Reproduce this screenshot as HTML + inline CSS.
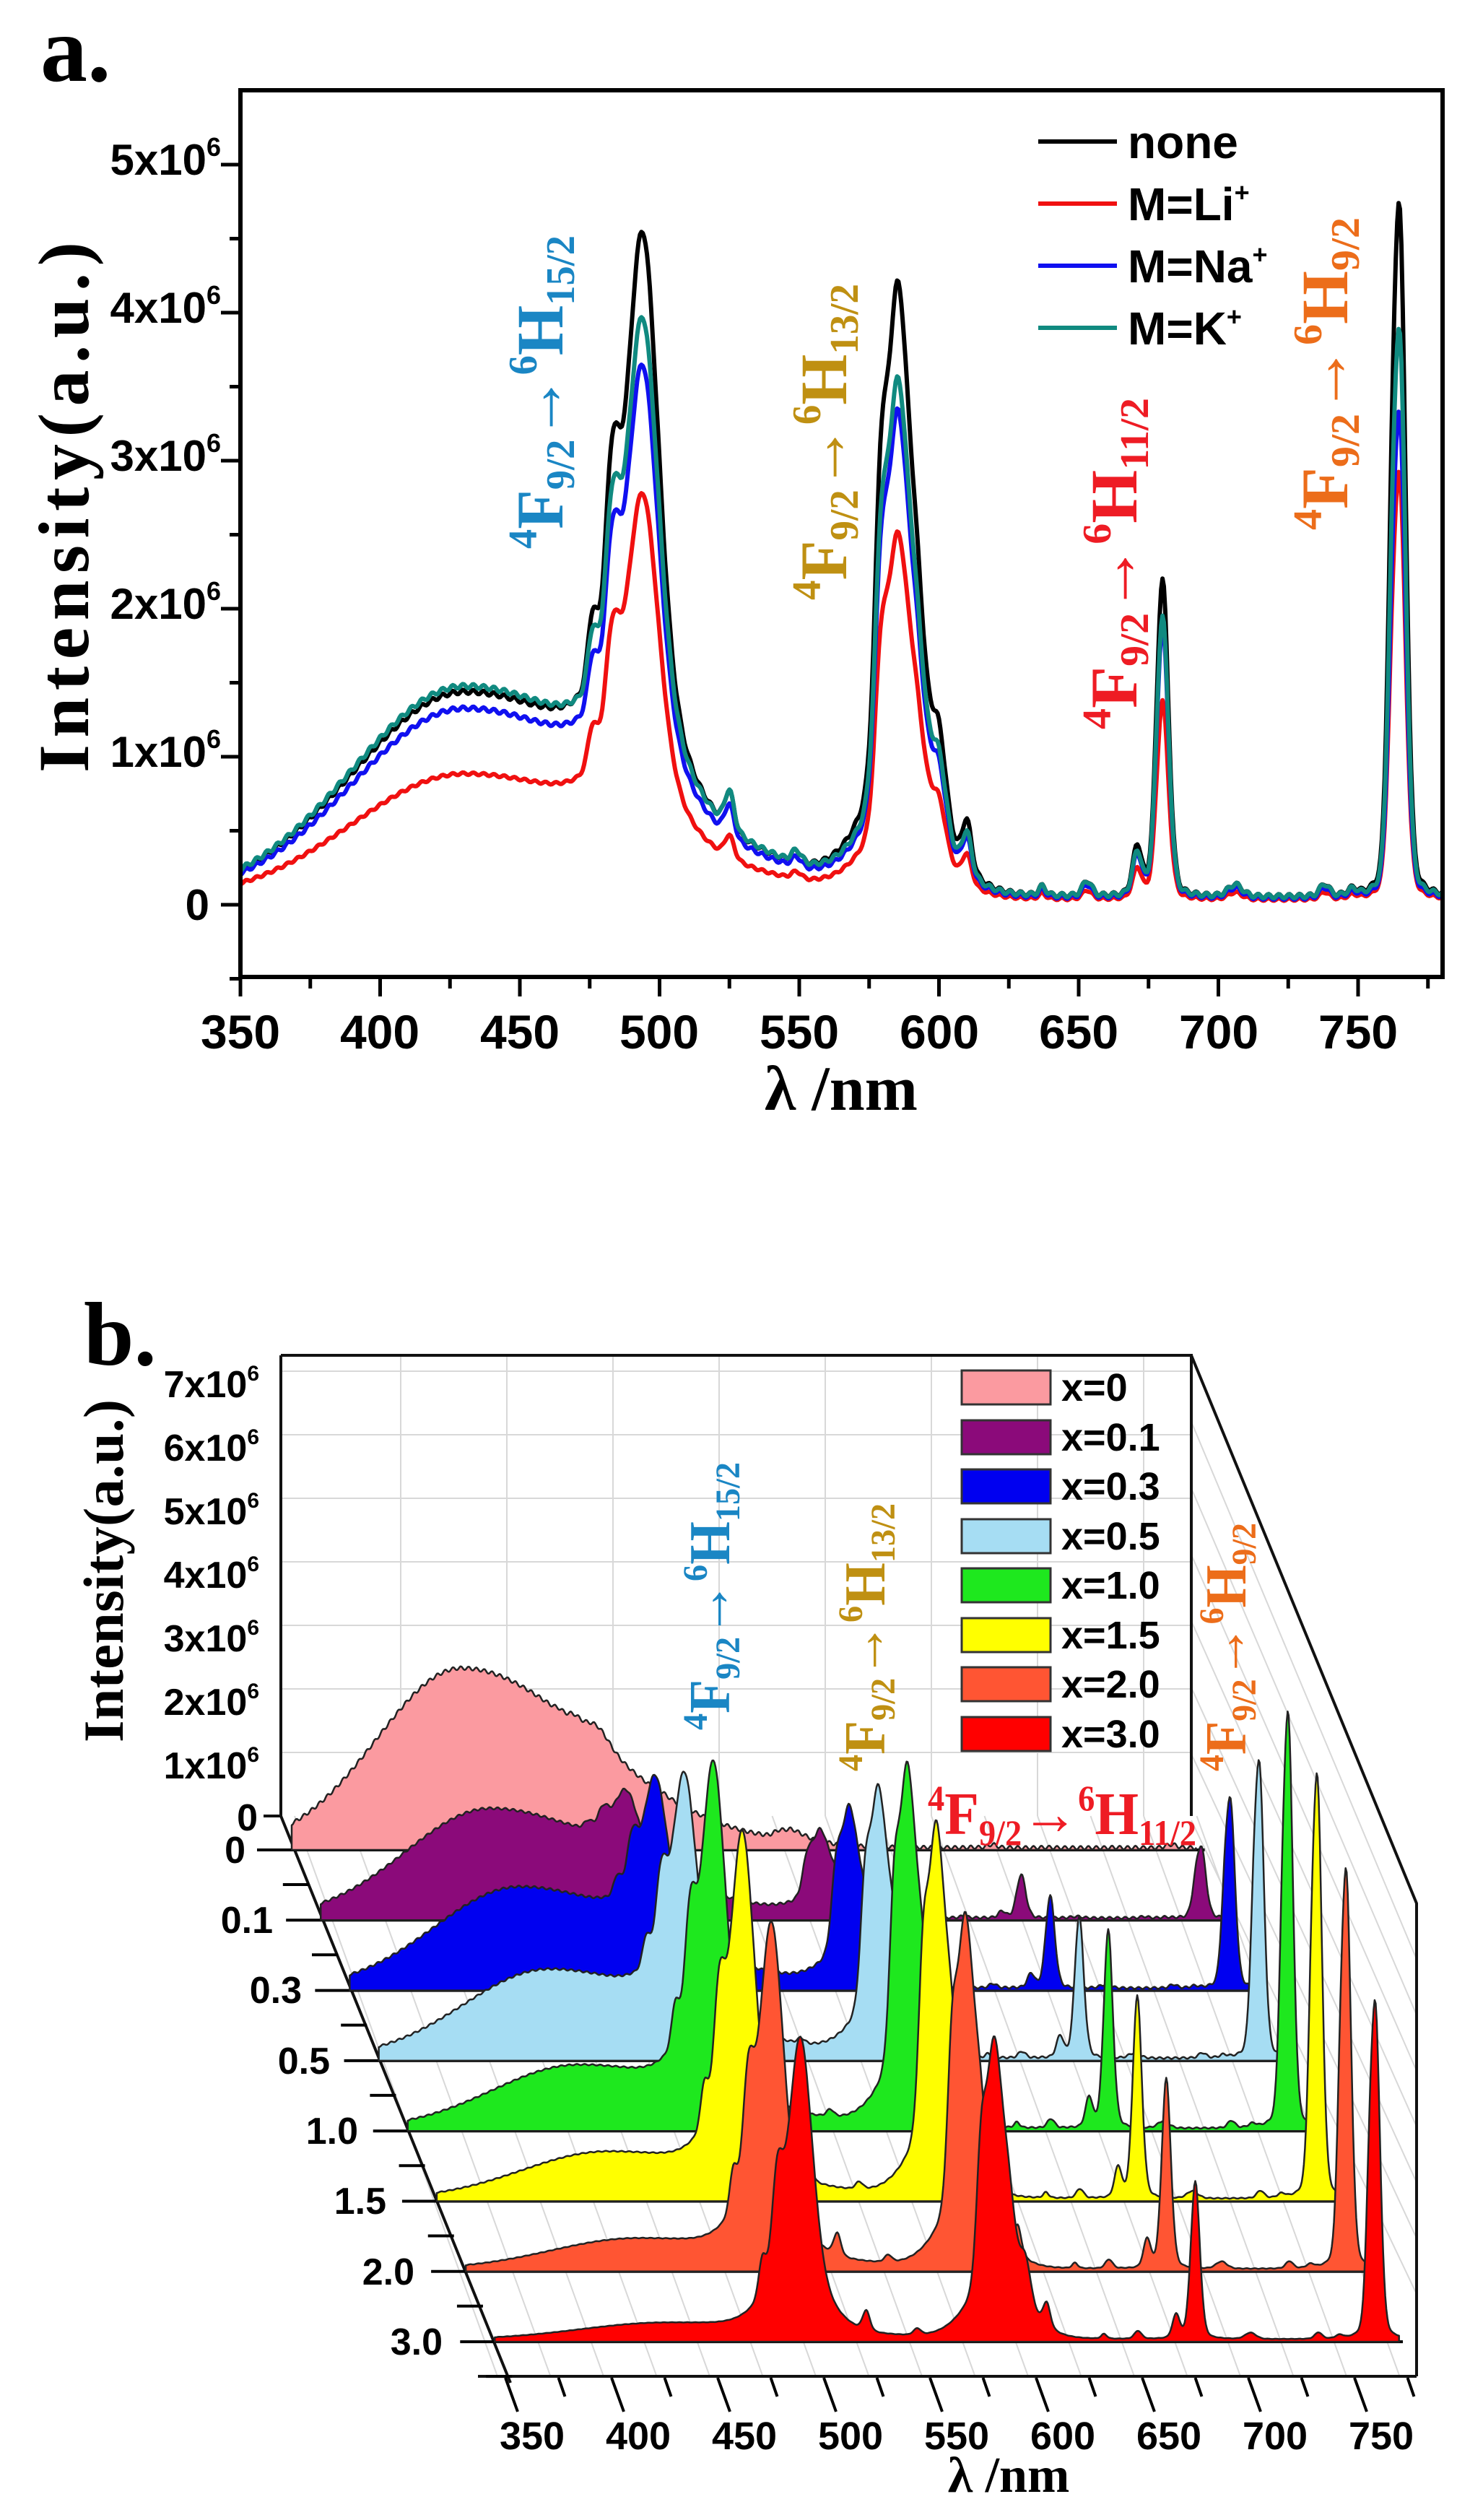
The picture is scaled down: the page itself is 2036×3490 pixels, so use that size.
<!DOCTYPE html>
<html><head><meta charset="utf-8"><style>
html,body{margin:0;padding:0;background:#fff;}
svg{display:block;}
.sans{font-family:"Liberation Sans",Arial,sans-serif;font-weight:bold;}
.serif{font-family:"Liberation Serif","Times New Roman",serif;font-weight:bold;}
</style></head><body>
<svg id="s" xmlns="http://www.w3.org/2000/svg" width="2036" height="3490" viewBox="0 0 2036 3490">
<rect width="2036" height="3490" fill="#fff"/>
<defs><clipPath id="ca"><rect x="333" y="125" width="1665" height="1230"/></clipPath></defs>
<g id="pa"></g>
<g id="pb"></g>

<!-- Panel a text -->
<text class="serif" x="56" y="112" font-size="130">a.</text>
<text class="serif" font-size="100" transform="translate(122,1070) rotate(-90)" textLength="735" lengthAdjust="spacing">Intensity(a.u.)</text>
<g class="sans" font-size="60" text-anchor="end">
<text x="306" y="242">5x10<tspan font-size="36" dy="-26">6</tspan></text>
<text x="306" y="447">4x10<tspan font-size="36" dy="-26">6</tspan></text>
<text x="306" y="652">3x10<tspan font-size="36" dy="-26">6</tspan></text>
<text x="306" y="857">2x10<tspan font-size="36" dy="-26">6</tspan></text>
<text x="306" y="1062">1x10<tspan font-size="36" dy="-26">6</tspan></text>
<text x="290" y="1274">0</text>
</g>
<g class="sans" font-size="66" text-anchor="middle">
<text x="333" y="1452">350</text><text x="526" y="1452">400</text><text x="720" y="1452">450</text>
<text x="913" y="1452">500</text><text x="1107" y="1452">550</text><text x="1301" y="1452">600</text>
<text x="1494" y="1452">650</text><text x="1688" y="1452">700</text><text x="1881" y="1452">750</text>
</g>
<text class="serif" x="1165" y="1537" font-size="88" text-anchor="middle">λ /nm</text>
<g stroke-width="6">
<line x1="1438" y1="196" x2="1547" y2="196" stroke="#000"/>
<line x1="1438" y1="282" x2="1547" y2="282" stroke="#f01010"/>
<line x1="1438" y1="368" x2="1547" y2="368" stroke="#1010f0"/>
<line x1="1438" y1="454" x2="1547" y2="454" stroke="#108a80"/>
</g>
<g class="sans" font-size="64">
<text x="1562" y="219">none</text>
<text x="1562" y="305">M=Li<tspan font-size="36" dy="-26">+</tspan></text>
<text x="1562" y="391">M=Na<tspan font-size="36" dy="-26">+</tspan></text>
<text x="1562" y="477">M=K<tspan font-size="36" dy="-26">+</tspan></text>
</g>
<g class="serif" font-size="92">
<text fill="#1a86c4" transform="translate(779,760) rotate(-90)" textLength="434" lengthAdjust="spacingAndGlyphs"><tspan font-size="56" dy="-36">4</tspan><tspan dy="36">F</tspan><tspan font-size="56" dy="16">9/2</tspan><tspan dy="-16">→</tspan><tspan font-size="56" dy="-36">6</tspan><tspan dy="36">H</tspan><tspan font-size="56" dy="16">15/2</tspan></text>
<text fill="#bf9012" transform="translate(1172,831) rotate(-90)" textLength="438" lengthAdjust="spacingAndGlyphs"><tspan font-size="56" dy="-36">4</tspan><tspan dy="36">F</tspan><tspan font-size="56" dy="16">9/2</tspan><tspan dy="-16">→</tspan><tspan font-size="56" dy="-36">6</tspan><tspan dy="36">H</tspan><tspan font-size="56" dy="16">13/2</tspan></text>
<text fill="#ee1c24" transform="translate(1574,1010) rotate(-90)" textLength="459" lengthAdjust="spacingAndGlyphs"><tspan font-size="56" dy="-36">4</tspan><tspan dy="36">F</tspan><tspan font-size="56" dy="16">9/2</tspan><tspan dy="-16">→</tspan><tspan font-size="56" dy="-36">6</tspan><tspan dy="36">H</tspan><tspan font-size="56" dy="16">11/2</tspan></text>
<text fill="#ec6d1a" transform="translate(1866,734) rotate(-90)" textLength="433" lengthAdjust="spacingAndGlyphs"><tspan font-size="56" dy="-36">4</tspan><tspan dy="36">F</tspan><tspan font-size="56" dy="16">9/2</tspan><tspan dy="-16">→</tspan><tspan font-size="56" dy="-36">6</tspan><tspan dy="36">H</tspan><tspan font-size="56" dy="16">9/2</tspan></text>
</g>

<!-- Panel b text -->
<text class="serif" x="116" y="1890" font-size="125">b.</text>
<text class="serif" font-size="78" transform="translate(170,2413) rotate(-90)" textLength="475" lengthAdjust="spacing">Intensity(a.u.)</text>
<g class="sans" font-size="52" text-anchor="end">
<text x="359" y="1935">7x10<tspan font-size="30" dy="-23">6</tspan></text>
<text x="359" y="2023">6x10<tspan font-size="30" dy="-23">6</tspan></text>
<text x="359" y="2111">5x10<tspan font-size="30" dy="-23">6</tspan></text>
<text x="359" y="2199">4x10<tspan font-size="30" dy="-23">6</tspan></text>
<text x="359" y="2287">3x10<tspan font-size="30" dy="-23">6</tspan></text>
<text x="359" y="2375">2x10<tspan font-size="30" dy="-23">6</tspan></text>
<text x="359" y="2463">1x10<tspan font-size="30" dy="-23">6</tspan></text>
<text x="357" y="2535">0</text>
</g>
<g class="sans" font-size="52" text-anchor="end">
<text x="340" y="2580">0</text>
<text x="378" y="2677">0.1</text>
<text x="418" y="2774">0.3</text>
<text x="457" y="2872">0.5</text>
<text x="496" y="2969">1.0</text>
<text x="535" y="3066">1.5</text>
<text x="574" y="3164">2.0</text>
<text x="613" y="3261">3.0</text>
</g>
<g class="sans" font-size="54" text-anchor="middle">
<text x="737" y="3392">350</text><text x="884" y="3392">400</text><text x="1031" y="3392">450</text>
<text x="1178" y="3392">500</text><text x="1325" y="3392">550</text><text x="1472" y="3392">600</text>
<text x="1619" y="3392">650</text><text x="1766" y="3392">700</text><text x="1913" y="3392">750</text>
</g>
<text class="serif" x="1397" y="3451" font-size="70" text-anchor="middle">λ /nm</text>
<g stroke="#333" stroke-width="3">
<rect x="1332" y="1898" width="123" height="47" fill="#fb9aa0"/>
<rect x="1332" y="1967" width="123" height="47" fill="#8b0a7a"/>
<rect x="1332" y="2035" width="123" height="47" fill="#0000f0"/>
<rect x="1332" y="2104" width="123" height="47" fill="#a6ddf3"/>
<rect x="1332" y="2172" width="123" height="47" fill="#1ee81e"/>
<rect x="1332" y="2241" width="123" height="47" fill="#ffff00"/>
<rect x="1332" y="2309" width="123" height="47" fill="#ff5533"/>
<rect x="1332" y="2378" width="123" height="47" fill="#ff0000"/>
</g>
<g class="sans" font-size="54">
<text x="1470" y="1940">x=0</text><text x="1470" y="2009">x=0.1</text>
<text x="1470" y="2077">x=0.3</text><text x="1470" y="2146">x=0.5</text>
<text x="1470" y="2214">x=1.0</text><text x="1470" y="2283">x=1.5</text>
<text x="1470" y="2351">x=2.0</text><text x="1470" y="2420">x=3.0</text>
</g>
<g class="serif" font-size="80">
<text fill="#1a86c4" transform="translate(1010,2396) rotate(-90)" textLength="371" lengthAdjust="spacingAndGlyphs"><tspan font-size="48" dy="-31">4</tspan><tspan dy="31">F</tspan><tspan font-size="48" dy="14">9/2</tspan><tspan dy="-14">→</tspan><tspan font-size="48" dy="-31">6</tspan><tspan dy="31">H</tspan><tspan font-size="48" dy="14">15/2</tspan></text>
<text fill="#bf9012" transform="translate(1225,2453) rotate(-90)" textLength="371" lengthAdjust="spacingAndGlyphs"><tspan font-size="48" dy="-31">4</tspan><tspan dy="31">F</tspan><tspan font-size="48" dy="14">9/2</tspan><tspan dy="-14">→</tspan><tspan font-size="48" dy="-31">6</tspan><tspan dy="31">H</tspan><tspan font-size="48" dy="14">13/2</tspan></text>
<text fill="#ec6d1a" transform="translate(1725,2453) rotate(-90)" textLength="344" lengthAdjust="spacingAndGlyphs"><tspan font-size="48" dy="-31">4</tspan><tspan dy="31">F</tspan><tspan font-size="48" dy="14">9/2</tspan><tspan dy="-14">→</tspan><tspan font-size="48" dy="-31">6</tspan><tspan dy="31">H</tspan><tspan font-size="48" dy="14">9/2</tspan></text>
<text fill="#ee1c24" x="1285" y="2540" font-size="84" textLength="372" lengthAdjust="spacingAndGlyphs"><tspan font-size="50" dy="-33">4</tspan><tspan dy="33">F</tspan><tspan font-size="50" dy="15">9/2</tspan><tspan dy="-15">→</tspan><tspan font-size="50" dy="-33">6</tspan><tspan dy="33">H</tspan><tspan font-size="50" dy="15">11/2</tspan></text>
</g>
</svg>
<script>
(function(){
var NS="http://www.w3.org/2000/svg";
function mk(parent,tag,a){var e=document.createElementNS(NS,tag);for(var k in a)e.setAttribute(k,a[k]);parent.appendChild(e);return e;}
function pv(x,c,w){var d=(x-c)/w;return 0.78*Math.exp(-0.693*d*d)+0.22/(1+d*d);}
function gs(x,c,s){var d=(x-c)/s;return Math.exp(-0.5*d*d);}
function g494(n){return pv(n,494,6.5)+0.38*pv(n,483,3)+0.15*pv(n,476,2)+0.22*gs(n,492,13);}
function g585(n){return pv(n,585,4.5)+0.45*pv(n,579,2.5)+0.35*pv(n,592,4)+0.18*pv(n,600,3)+0.1*pv(n,610,2)+0.22*gs(n,587,13);}
function g680(n){return pv(n,680,2.5)+0.15*pv(n,671,2);}
function g765(n){return pv(n,765,2.5)+0.35*pv(n,762,2);}
function norm(f){var m=0;for(var n=300;n<=800;n+=0.25){var v=f(n);if(v>m)m=v;}return m;}
var N=[norm(g494),norm(g585),norm(g680),norm(g765)];
function small(n){return 0.25*pv(n,525,2)+0.08*pv(n,549,2)+0.06*pv(n,637,1.5)+0.1*pv(n,653,2)+0.08*pv(n,706,3)+0.08*pv(n,738,2)+0.04*pv(n,748,2);}
function broad(n){return n<430?gs(n,430,40):gs(n,430,61);}
function spec(n,p){
 return p.b*broad(n)+p.A[0]*g494(n)/N[0]+p.A[1]*g585(n)/N[1]+p.A[2]*g680(n)/N[2]+p.A[3]*g765(n)/N[3]+p.s*small(n)+p.c+0.01*p.b*Math.sin(n*1.7);
}
var pa=document.getElementById('pa');
var t='';
for(var k=0;k<=5;k++){var y=1253-k*205;t+='M333 '+y+'h-27';}
for(var k=-0.5;k<5.5;k+=1){var y=1253-k*205;t+='M333 '+y+'h-15';}
for(var nm=350;nm<=750;nm+=50){var x=333+(nm-350)*3.87;t+='M'+x+' 1353v27';}
for(var nm=375;nm<=775;nm+=50){var x=333+(nm-350)*3.87;t+='M'+x+' 1353v16';}
mk(pa,'path',{d:t,stroke:'#000','stroke-width':5,fill:'none'});
var series=[
 {col:'#000',b:1.38,A:[3.7,4.1,2.15,4.7],s:1,c:0.05},
 {col:'#f01010',b:0.85,A:[2.26,2.45,1.35,2.9],s:0.6,c:0.03},
 {col:'#1010f0',b:1.28,A:[2.87,3.25,1.85,3.3],s:0.85,c:0.04},
 {col:'#108a80',b:1.42,A:[3.1,3.45,1.9,3.85],s:1,c:0.05}];
var cg=mk(pa,'g',{'clip-path':'url(#ca)'});
series.forEach(function(p){
 var d='';
 for(var n=350;n<=781;n+=0.5){var x=333+(n-350)*3.87,y=1253-spec(n,p)*205;d+=(d?'L':'M')+x.toFixed(1)+' '+y.toFixed(1);}
 mk(cg,'path',{d:d,stroke:p.col,'stroke-width':6,fill:'none','stroke-linejoin':'round'});
});
mk(pa,'rect',{x:333,y:125,width:1665,height:1228,fill:'none',stroke:'#000','stroke-width':6});

var pb=document.getElementById('pb');
var grid='';
for(var k=1;k<=7;k++){var y=2515-k*88;grid+='M389 '+y+'H1650';}
for(var nm=400;nm<=750;nm+=50){var x=389+19+(nm-350)*2.94;grid+='M'+x+' 1877V2515';}
for(var nm=350;nm<=775;nm+=25){var x0=408+(nm-350)*2.94,x1=689+(nm-350)*2.94;grid+='M'+x0+' 2515L'+x1+' 3291';}
for(var k=1;k<=7;k++){grid+='M1650 '+(1877+k*92)+'L1962 '+(2636+k*92*0.84);}
mk(pb,'path',{d:grid,stroke:'#d8d8d8','stroke-width':2,fill:'none'});
mk(pb,'path',{d:'M389 1877H1650V2515M389 1877V2515M1650 1877L1962 2636V3291M662 3291H1962M365 2515H389L707 3300',stroke:'#111','stroke-width':4,fill:'none'});
var rows=[
 {col:'#fb9aa0',b:218,A:[22,14,4,4]},
 {col:'#8b0a7a',b:133,A:[79,103,53,88]},
 {col:'#0000f0',b:123,A:[188,218,113,233]},
 {col:'#a6ddf3',b:108,A:[286,328,173,363]},
 {col:'#1ee81e',b:77,A:[403,442,242,507]},
 {col:'#ffff00',b:57,A:[415,457,247,517]},
 {col:'#ff5533',b:37,A:[401,432,232,487]},
 {col:'#ff0000',b:20,A:[356,367,192,412]}];
var tk='';
for(var i=0;i<8;i++){var y=2562+i*97.3+48;var x=389+(y-2516)*0.413;tk+='M'+(x-36)+' '+y+'H'+x;}
mk(pb,'path',{d:tk,stroke:'#000','stroke-width':4,fill:'none'});
var xt='';
for(var nm=350;nm<=775;nm+=25){var x=700+(nm-350)*2.94;var maj=(nm%50==0);xt+='M'+x+' 3293l'+(maj?17:9)+' '+(maj?47:26);}
mk(pb,'path',{d:xt,stroke:'#000','stroke-width':4,fill:'none'});
rows.forEach(function(r,i){
 var Y=2562+i*97.3;
 var sx=389+(Y-2516)*0.413-4;
 var ex=1650+(Y-2516)*0.403;
 mk(pb,'line',{x1:sx-48,y1:Y,x2:ex,y2:Y,stroke:'#000','stroke-width':4});
 var p={b:r.b*1.141,A:r.A.map(function(a){return a*1.141;}),s:r.A[0]*1.141/3.7,c:3};
 var d='M'+sx.toFixed(1)+' '+Y;
 for(var n=350;n<=776;n+=0.5){var x=sx+(n-350)*2.94;if(x>ex)break;var h=spec(n,p);d+='L'+x.toFixed(1)+' '+(Y-h).toFixed(1);}
 var lx=Math.min(sx+426*2.94,ex);
 d+='L'+lx.toFixed(1)+' '+Y+'Z';
 mk(pb,'path',{d:d,fill:r.col,stroke:'#222','stroke-width':2.5,'stroke-linejoin':'round'});
});
})();
</script>
</body></html>
